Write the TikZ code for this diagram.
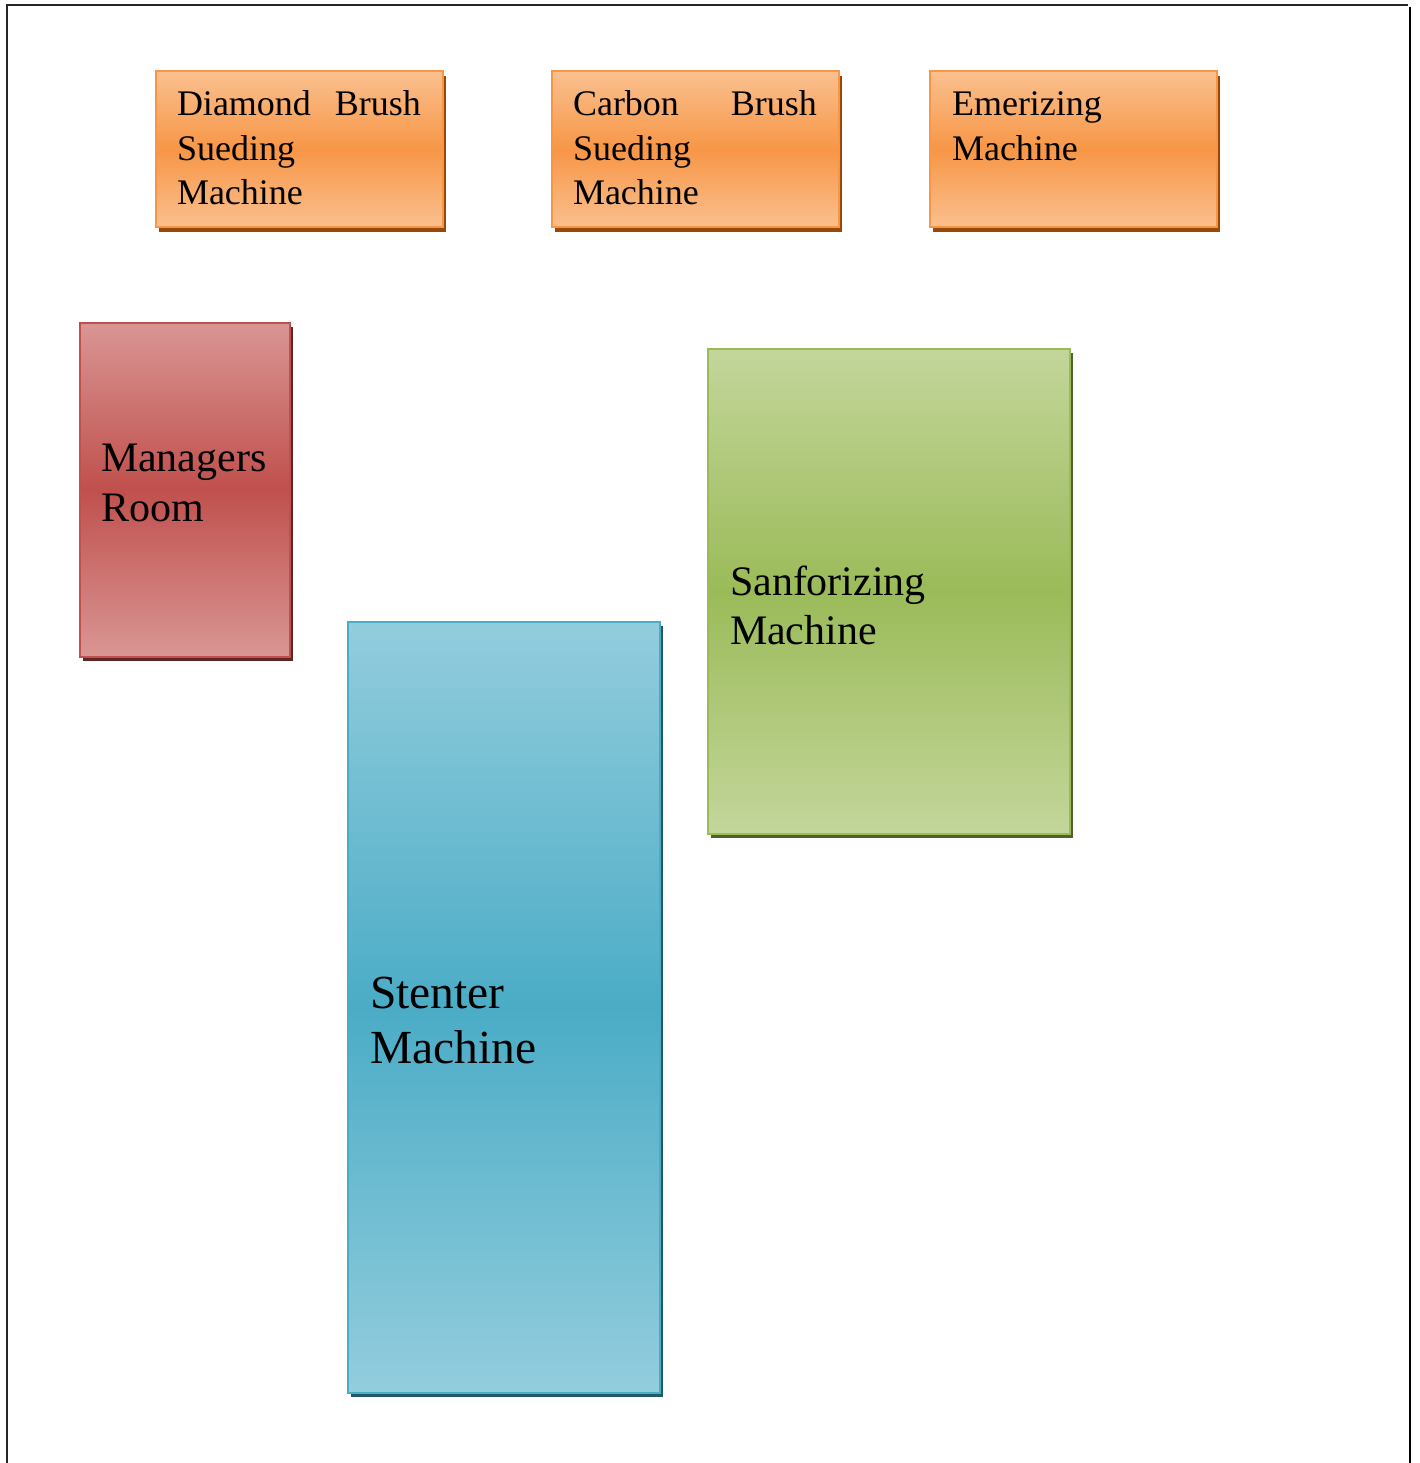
\documentclass[tikz,border=0pt]{standalone}
\usepackage{fontspec}
\setmainfont{Liberation Serif}
\usetikzlibrary{shadows}
\definecolor{orL}{HTML}{FAC08F}\definecolor{orM}{HTML}{F79646}\definecolor{orD}{HTML}{984807}
\definecolor{rdL}{HTML}{D99694}\definecolor{rdM}{HTML}{C0504D}\definecolor{rdD}{HTML}{632523}
\definecolor{grL}{HTML}{C3D69B}\definecolor{grM}{HTML}{9BBB59}\definecolor{grD}{HTML}{4F6228}
\definecolor{blL}{HTML}{93CDDD}\definecolor{blM}{HTML}{4BACC6}\definecolor{blD}{HTML}{215968}
\begin{document}
\begin{tikzpicture}[x=1pt,y=-1pt,
  box/.style={draw, line width=2pt, anchor=north west, inner sep=0pt, outer sep=0pt},
  colbox/.style n args={3}{box, draw=#2, top color=#1, bottom color=#1, middle color=#2,
     general shadow={fill=#3, shadow xshift=3pt, shadow yshift=-4.5pt}},
  orangebox/.style={colbox={orL}{orM}{orD}, minimum width=287pt, minimum height=156pt},
  redbox/.style={colbox={rdL}{rdM}{rdD}},
  greenbox/.style={colbox={grL}{grM}{grD}},
  bluebox/.style={colbox={blL}{blM}{blD}},
  lbl/.style={anchor=base west, inner sep=0pt, outer sep=0pt, align=left, text=black},
  smalllbl/.style={lbl, text width=244pt, font=\fontsize{36}{44.5}\selectfont},
  frameline/.style={line width=2pt, draw=black!85}]
\useasboundingbox (0,0) rectangle (1419,1463);
% frame
\draw[frameline] (7,1463) -- (7,5) -- (1408,5);
\draw[frameline, line width=2.5pt, draw=black] (1410,7) -- (1410,1463);
% boxes
\node[orangebox] (diamond) at (155.5,71.5) {};
\node[orangebox] (carbon) at (551.5,71.5) {};
\node[orangebox] (emerizing) at (929.5,71.5) {};
\node[redbox, minimum width=210pt, minimum height=334pt] (managers) at (79.5,322.5) {};
\node[greenbox, minimum width=362pt, minimum height=485pt] (sanforizing) at (707.5,348.5) {};
\node[bluebox, minimum width=312pt, minimum height=771pt] (stenter) at (347.5,621.5) {};
% labels
\node[smalllbl] (tdiamond) at (177,116) {Diamond\hfill Brush\\Sueding\\Machine};
\node[smalllbl] (tcarbon) at (573,116) {Carbon\hfill Brush\\Sueding\\Machine};
\node[smalllbl] (temerizing) at (952,116) {Emerizing\\Machine};
\node[lbl, text width=185pt, font=\fontsize{42}{50}\selectfont] (tmanagers) at (101,471) {Managers\\Room};
\node[lbl, text width=320pt, font=\fontsize{42}{49}\selectfont] (tsanforizing) at (730,595) {Sanforizing\\Machine};
\node[lbl, text width=270pt, font=\fontsize{47.5}{55}\selectfont] (tstenter) at (370,1008) {Stenter\\Machine};
\end{tikzpicture}
\end{document}
